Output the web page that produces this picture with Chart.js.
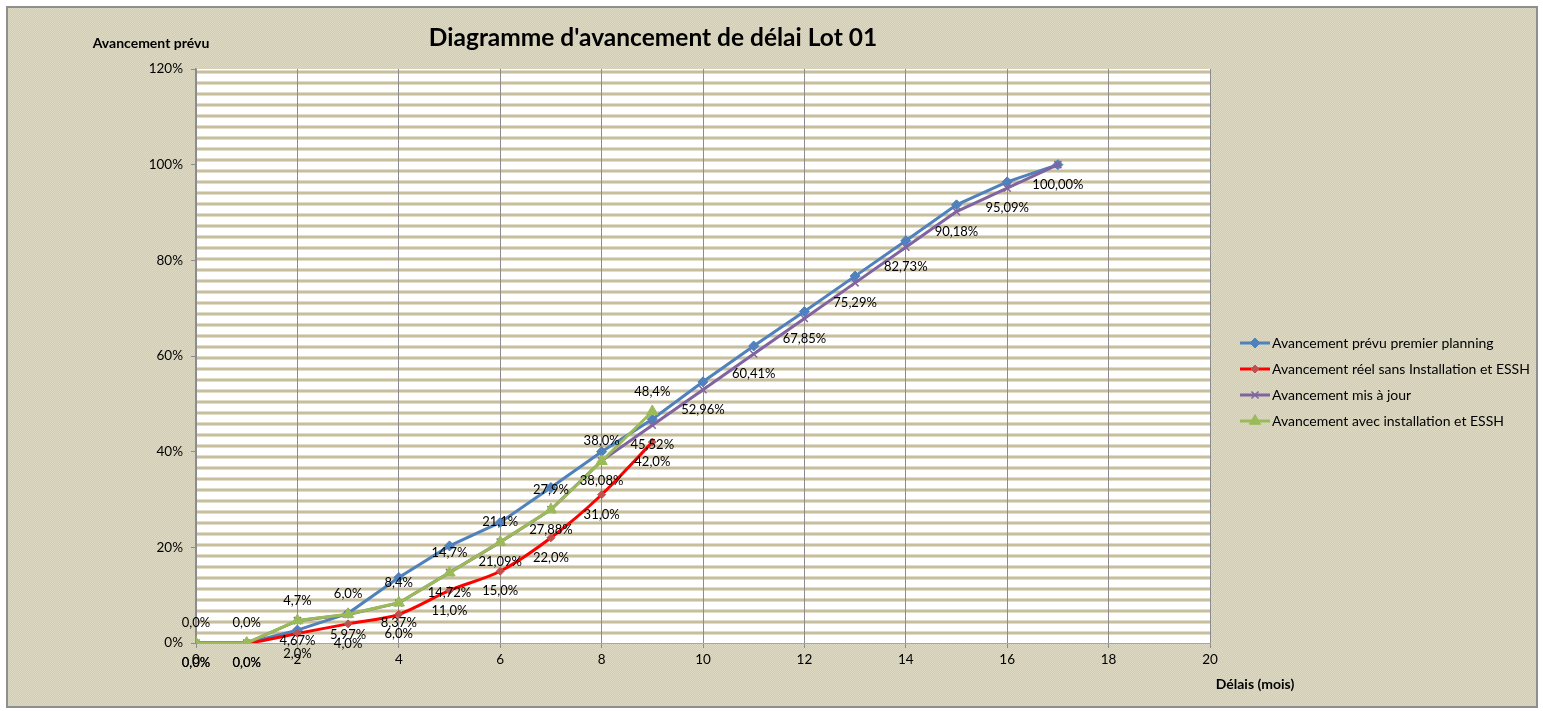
<!DOCTYPE html>
<html><head><meta charset="utf-8">
<style>html,body{margin:0;padding:0;background:#fff;} canvas{display:block;}</style>
<script src="https://cdn.jsdelivr.net/npm/chart.js@4.4.1/dist/chart.umd.min.js"></script>
</head><body>
<canvas id="c" width="1543" height="711"></canvas>
<script>
// ---- data ----
const months = [0,1,2,3,4,5,6,7,8,9,10,11,12,13,14,15,16,17];
const prevuPremierPlanning = [0,0,2.7,6.2,13.7,20.3,25.2,32.5,40.0,46.8,54.6,62.1,69.3,76.7,84.1,91.6,96.4,100];
const reelSansInstallation = [0,0,2.0,4.0,6.0,11.0,15.0,22.0,31.0,42.0];
const misAJour = [0,0,4.67,5.97,8.37,14.72,21.09,27.88,38.08,45.52,52.96,60.41,67.85,75.29,82.73,90.18,95.09,100];
const avecInstallation = [0,0,4.7,6.0,8.4,14.7,21.1,27.9,38.0,48.4];
const seriesNames = ["Avancement prévu premier planning","Avancement réel sans Installation et ESSH","Avancement mis à jour","Avancement avec installation et ESSH"];
const yTicks = [0,20,40,60,80,100,120];
const xTicks = [0,2,4,6,8,10,12,14,16,18,20];
const titleText = "Diagramme d'avancement de délai Lot 01";
const yTitle = "Avancement prévu";
const xTitle = "Délais (mois)";

const FONT = "Lato";
const pts = arr => arr.map((v,i)=>({x:months[i], y:v}));
const fmt = (v,d) => v.toFixed(v===0?1:d).replace('.',',') + '%';

// background pattern
const pc = document.createElement('canvas'); pc.width=2; pc.height=2;
const pctx = pc.getContext('2d');
pctx.fillStyle='#d2cdb1'; pctx.fillRect(0,0,2,2);
pctx.fillStyle='#ddd9c3'; pctx.fillRect(0,0,1,1); pctx.fillRect(1,1,1,1);

const bgPlugin = {
  id:'bg',
  beforeDraw(chart){
    const ctx = chart.ctx;
    ctx.save();
    ctx.fillStyle='#ffffff'; ctx.fillRect(0,0,chart.width,chart.height);
    ctx.fillStyle = ctx.createPattern(pc,'repeat');
    ctx.fillRect(7,7,1530,700);
    ctx.strokeStyle='#8f8f8f'; ctx.lineWidth=2;
    ctx.strokeRect(7,7,1530,700);
    const a = chart.chartArea;
    ctx.fillStyle='#ffffff'; ctx.fillRect(a.left,a.top,a.right-a.left,a.bottom-a.top);
    for(let y=a.top+1; y<a.bottom-1; y+=11){
      ctx.fillStyle='#e2ddc9'; ctx.fillRect(a.left,y,a.right-a.left,1);
      ctx.fillStyle='#c6be9c'; ctx.fillRect(a.left,y+1,a.right-a.left,2);
      ctx.fillStyle='#e2ddc9'; ctx.fillRect(a.left,y+3,a.right-a.left,1);
    }
    ctx.restore();
  }
};

const labelCfg = {1:{off:20,dec:1},2:{off:20,dec:2},3:{off:-20,dec:1}};
const labelPlugin = {
  id:'lbls',
  afterDatasetsDraw(chart){
    const ctx = chart.ctx;
    ctx.save();
    ctx.font = `13px ${FONT}`; ctx.fillStyle='#000'; ctx.textAlign='center'; ctx.textBaseline='middle';
    [1,2,3].forEach(di=>{
      const meta = chart.getDatasetMeta(di);
      const data = chart.data.datasets[di].data;
      meta.data.forEach((el,i)=>{
        ctx.fillText(fmt(data[i].y, labelCfg[di].dec), el.x, el.y + labelCfg[di].off);
      });
    });
    ctx.restore();
  }
};

const textPlugin = {
  id:'texts',
  afterDraw(chart){
    const ctx = chart.ctx;
    ctx.save();
    ctx.fillStyle='#000'; ctx.textAlign='center'; ctx.textBaseline='middle';
    ctx.font = `bold 24.5px ${FONT}`; ctx.fillText(titleText, 653, 38);
    ctx.font = `bold 14px ${FONT}`; ctx.fillText(yTitle, 151, 43);
    ctx.fillText(xTitle, 1255, 684);
    // legend
    ctx.textAlign='left';
    ctx.font = `14px ${FONT}`;
    chart.data.datasets.forEach((ds,i)=>{
      const y = 343 + i*26;
      ctx.strokeStyle = ds.borderColor; ctx.lineWidth = 3;
      ctx.beginPath(); ctx.moveTo(1240,y); ctx.lineTo(1270,y); ctx.stroke();
      ctx.fillStyle = ds.pointBackgroundColor; ctx.strokeStyle = ds.pointBorderColor;
      ctx.lineWidth = ds.pointBorderWidth;
      Chart.helpers.drawPoint(ctx,{pointStyle:ds.pointStyle, radius:ds.pointRadius, rotation:0, borderWidth:ds.pointBorderWidth},1255,y);
      ctx.fillStyle='#000';
      ctx.fillText(seriesNames[i], 1272, y);
    });
    ctx.restore();
  }
};

new Chart(document.getElementById('c'), {
  type:'line',
  data:{
    datasets:[
      {label:seriesNames[0], data:pts(prevuPremierPlanning), borderColor:'#4f81bd', borderWidth:3,
       pointStyle:'rectRot', pointRadius:5, pointBackgroundColor:'#4f81bd', pointBorderColor:'#4f81bd', pointBorderWidth:1, tension:0, order:4},
      {label:seriesNames[1], data:pts(reelSansInstallation), borderColor:'#ff0000', borderWidth:3,
       pointStyle:'rectRot', pointRadius:4, pointBackgroundColor:'#c0504d', pointBorderColor:'#c0504d', pointBorderWidth:1, tension:0.3, order:3},
      {label:seriesNames[2], data:pts(misAJour), borderColor:'#8064a2', borderWidth:3,
       pointStyle:'crossRot', pointRadius:5, pointBackgroundColor:'#8064a2', pointBorderColor:'#8064a2', pointBorderWidth:1.5, tension:0, order:2},
      {label:seriesNames[3], data:pts(avecInstallation), borderColor:'#9bbb59', borderWidth:3,
       pointStyle:'triangle', pointRadius:6.5, pointBackgroundColor:'#9bbb59', pointBorderColor:'#9bbb59', pointBorderWidth:1, tension:0, order:1}
    ]
  },
  options:{
    responsive:false, animation:false,
    layout:{padding:{left:0,top:69,right:333,bottom:0}},
    plugins:{legend:{display:false}, title:{display:false}, tooltip:{enabled:false}},
    scales:{
      x:{type:'linear', min:0, max:20,
         afterBuildTicks(s){ s.ticks = xTicks.map(v=>({value:v})); },
         ticks:{color:'#000', font:{family:FONT,size:13.5}, padding:4, maxRotation:0},
         grid:{color:'#8c8c8c', lineWidth:1, tickLength:5},
         border:{color:'#a6a6a6', width:1},
         afterFit(s){ s.height = 68; }},
      y:{min:0, max:120,
         afterBuildTicks(s){ s.ticks = yTicks.map(v=>({value:v})); },
         ticks:{color:'#000', font:{family:FONT,size:13.5}, padding:8, callback:v=>v+'%'},
         grid:{drawOnChartArea:false, color:'#8c8c8c', tickLength:5},
         border:{color:'#8c8c8c', width:1.5},
         afterFit(s){ s.width = 196; }}
    }
  },
  plugins:[bgPlugin, labelPlugin, textPlugin]
});
</script>
</body></html>
